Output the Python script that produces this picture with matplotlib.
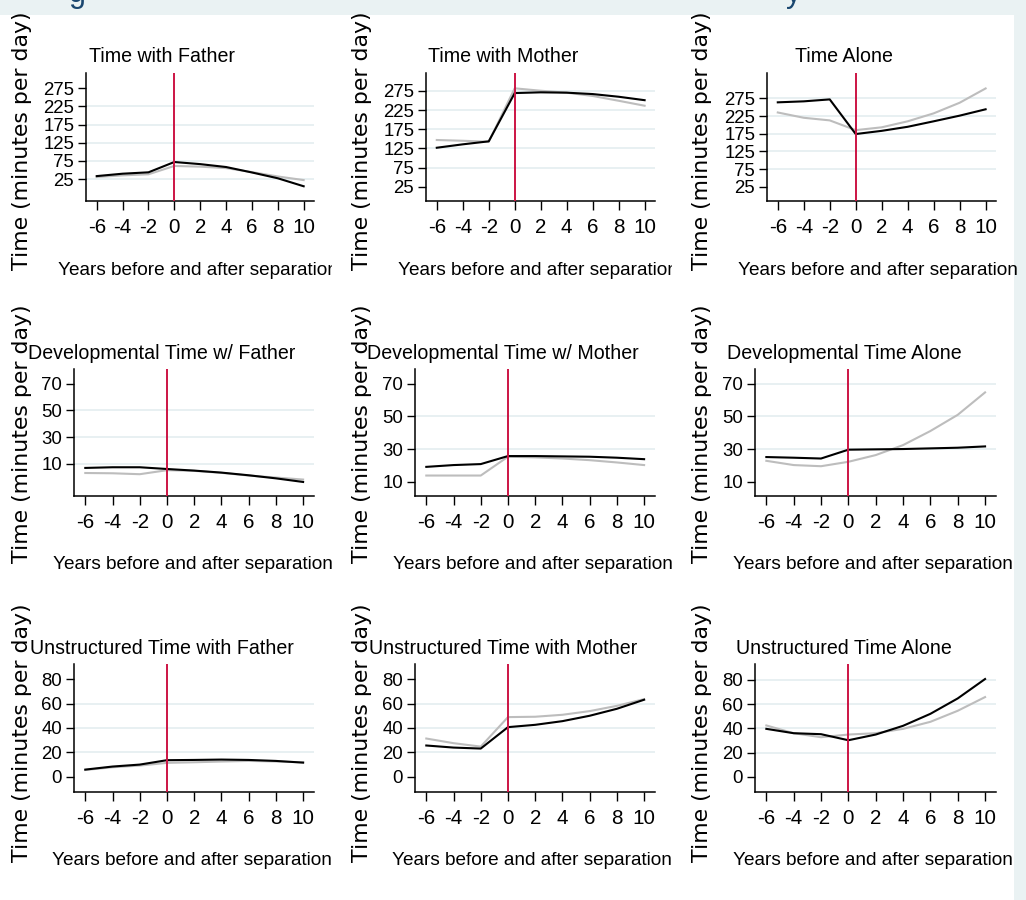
import matplotlib
matplotlib.use("Agg")
import matplotlib.pyplot as plt
from matplotlib import font_manager as fm
from matplotlib.transforms import Bbox, TransformedBbox
from matplotlib.patches import Rectangle

# ---------------- data ----------------
years = [-6, -4, -2, 0, 2, 4, 6, 8, 10]
xtick_labels = ["-6", "-4", "-2", "0", "2", "4", "6", "8", "10"]

titles = [
    "Time with Father", "Time with Mother", "Time Alone",
    "Developmental Time w/ Father", "Developmental Time w/ Mother", "Developmental Time Alone",
    "Unstructured Time with Father", "Unstructured Time with Mother", "Unstructured Time Alone",
]
ylabel = "Time (minutes per day)"
xlabel = "Years before and after separation"

father_black = [33, 39.6, 43.4, 71.8, 66, 58, 43, 27, 5]
father_gray = [30.5, 35, 38, 61, 59, 55, 44, 32, 22]
mother_black = [126.8, 135.7, 143.5, 269.6, 271.5, 270.6, 267, 260, 251]
mother_gray = [147, 145, 142.5, 282, 275.7, 270.6, 262, 249.5, 236.5]
alone_black = [263.7, 266.5, 272, 174, 183, 194.5, 210, 226, 244]
alone_gray = [235, 220, 212.6, 185, 193, 210, 232.5, 262.5, 303]

dev_father_black = [7, 7.5, 7.5, 6.2, 5, 3.5, 1.5, -0.8, -3.5]
dev_father_gray = [3.2, 3, 2.3, 5.3, 4.8, 3.3, 1.3, -0.2, -1.7]
dev_mother_black = [19.2, 20.3, 20.9, 25.8, 25.8, 25.6, 25.4, 24.8, 23.9]
dev_mother_gray = [13.9, 13.9, 13.9, 25.4, 25, 24.3, 23.3, 21.9, 20.3]
dev_alone_black = [25.2, 24.8, 24.3, 29.7, 29.9, 30.1, 30.5, 30.9, 31.7]
dev_alone_gray = [22.9, 20.3, 19.6, 22.3, 26.4, 32.5, 41.1, 51, 64.7]

uns_father_black = [6, 8.5, 10.1, 13.7, 13.9, 14.2, 13.9, 13.1, 11.7]
uns_father_gray = [5.7, 7.9, 9.3, 11.5, 12, 12.6, 13.1, 12.6, 12]
uns_mother_black = [25.7, 24.0, 23.2, 40.7, 42.6, 45.6, 50, 55.7, 63.1]
uns_mother_gray = [31.4, 27.6, 24.8, 48.9, 49.2, 50.8, 53.8, 58.1, 63.6]
uns_alone_black = [39.7, 36.1, 35.3, 30.3, 35, 42.2, 52.1, 64.8, 80.8]
uns_alone_gray = [42.5, 36.1, 32.8, 35, 36.1, 39.7, 45.5, 54.6, 65.9]

black_series = [father_black, mother_black, alone_black,
                dev_father_black, dev_mother_black, dev_alone_black,
                uns_father_black, uns_mother_black, uns_alone_black]
gray_series = [father_gray, mother_gray, alone_gray,
               dev_father_gray, dev_mother_gray, dev_alone_gray,
               uns_father_gray, uns_mother_gray, uns_alone_gray]

yticks_total = [25, 75, 125, 175, 225, 275]
yticks_dev = [10, 30, 50, 70]
yticks_uns = [0, 20, 40, 60, 80]
yticks = [yticks_total] * 3 + [yticks_dev] * 3 + [yticks_uns] * 3

# ---------------- fonts ----------------
installed = {f.name for f in fm.fontManager.ttflist}
if "Liberation Sans Narrow" in installed:
    NARROW = ["Liberation Sans Narrow", "DejaVu Sans"]
    K_TICK, K_TITLE, K_XLAB = 1.0, 1.0, 1.0
else:
    NARROW = ["Liberation Sans", "DejaVu Sans"]
    K_TICK, K_TITLE, K_XLAB = 0.85, 0.84, 0.84
WIDE = ["DejaVu Sans"]

# ---------------- layout / style ----------------
W, H = 1026, 900
fig = plt.figure(figsize=(W / 100, H / 100), dpi=100)
fig.patch.set_facecolor("white")

def fx(px):
    return px / W

def fy(py):
    return 1 - py / H

BAND = "#EAF2F3"
fig.patches.append(Rectangle((0, fy(15)), 1, 15 / H, transform=fig.transFigure,
                             facecolor=BAND, edgecolor="none", zorder=0))
fig.patches.append(Rectangle((fx(1014), 0), 1 - fx(1014), 1, transform=fig.transFigure,
                             facecolor=BAND, edgecolor="none", zorder=0))

NAVY = "#1a476f"
RED = "#cc1444"
GRAY = "#bdbdbd"
GRID = "#e8f0f2"

# axes boxes (left, right, top, bottom) in pixels
col_lr_row1 = [(86, 314), (426, 655), (767, 996)]
col_lr_other = [(74, 314), (415, 655), (755, 996)]
row_tb = [(73, 201), (369, 496), (664, 792)]
ylims = [(-35.6, 317), (-12.3, 322), (-15.5, 346.7),
         (-14, 81), (1.4, 79), (1.4, 79),
         (-12.3, 92.3), (-12.3, 92.3), (-12.4, 93.2)]
grids = [[75, 125, 175, 225, 25], [75, 125, 175, 225, 275], [75, 125, 175, 225, 275],
         [10, 30, 50], [30, 50], [30, 50, 70],
         [20, 40, 60], [20, 40, 60], [20, 40, 60, 80]]

title_cx = [162, 503, 844]
title_base = [62, 359, 654]
xlab_left = [[58, 398, 738], [53, 393, 733], [52, 392, 733]]
xlab_base = [275, 569, 865]
xlab_clip = [332, 672, W]
ylab_cx = [22, 362, 702]
ylab_bottom = [270, 563, 862]

for i in range(9):
    r, c = divmod(i, 3)
    l, rr = (col_lr_row1 if r == 0 else col_lr_other)[c]
    t, b = row_tb[r]
    ax = fig.add_axes([fx(l), fy(b), (rr - l) / W, (b - t) / H])
    ax.set_facecolor("none")
    for s in ("top", "right"):
        ax.spines[s].set_visible(False)
    for s in ("left", "bottom"):
        ax.spines[s].set_linewidth(1.1)
        ax.spines[s].set_color("black")
    ax.set_xlim(-6.83, 10.8)
    ax.set_ylim(*ylims[i])
    for g in grids[i]:
        ax.axhline(g, color=GRID, lw=1.4, zorder=0)
    ax.plot(years, gray_series[i], color=GRAY, lw=1.5, zorder=2)
    ax.plot(years, black_series[i], color="black", lw=1.5, zorder=3)
    ax.axvline(0, color=RED, lw=1.4, zorder=4)
    ax.set_xticks(years)
    ax.set_xticklabels(xtick_labels, family=NARROW, fontsize=17.5 * K_TICK)
    ax.set_yticks(yticks[i])
    ax.set_yticklabels([str(v) for v in yticks[i]], family=NARROW,
                       fontsize=15.8 * K_TICK)
    ax.tick_params(axis="x", length=6.5, width=1, pad=6, colors="black")
    ax.tick_params(axis="y", length=5.5, width=1, pad=3, colors="black")

    fig.text(fx(title_cx[c]), fy(title_base[r]), titles[i], family=NARROW,
             fontsize=16.8 * K_TITLE, ha="center", va="baseline")
    xt = fig.text(fx(xlab_left[r][c]), fy(xlab_base[r]), xlabel, family=NARROW,
                  fontsize=16.3 * K_XLAB, ha="left", va="baseline")
    clip = TransformedBbox(Bbox([[0, 0], [fx(xlab_clip[c]), 1]]), fig.transFigure)
    xt.set_clip_box(clip)
    xt.set_clip_on(True)
    fig.text(fx(ylab_cx[c]), fy(ylab_bottom[r]), ylabel, family=WIDE,
             fontsize=15.8, rotation=90, ha="center", va="bottom")

# fragments of the clipped overall title
for ch, px in (("g", 77), ("y", 794)):
    tt = fig.text(fx(px), fy(2), ch, family=["Liberation Sans", "DejaVu Sans"],
                  fontsize=22, color=NAVY, ha="center", va="baseline")
    tt.set_clip_box(TransformedBbox(Bbox([[0, fy(15)], [1, 1]]), fig.transFigure))
    tt.set_clip_on(True)

fig.savefig("out.png", dpi=100, facecolor="white")
